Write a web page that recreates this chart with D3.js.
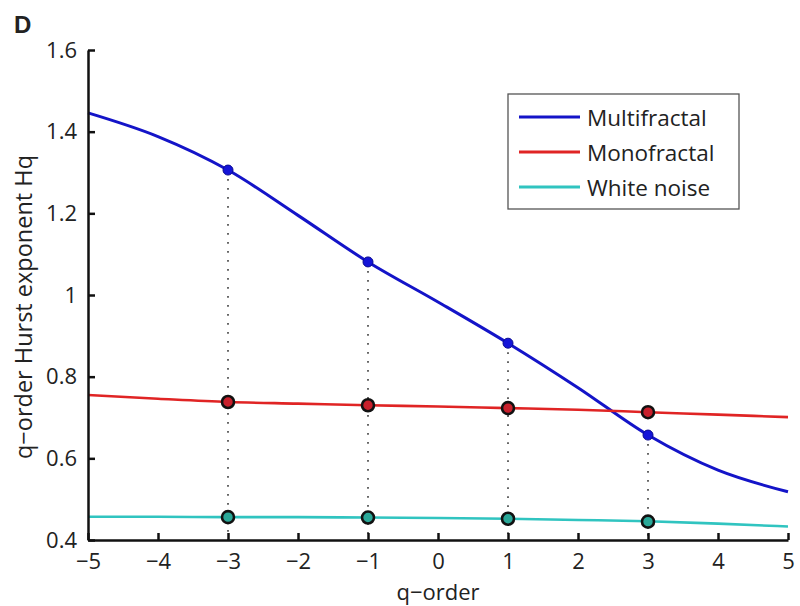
<!DOCTYPE html>
<html><head><meta charset="utf-8">
<script src="https://cdn.jsdelivr.net/npm/d3@7"></script>
<style>
html,body{margin:0;padding:0;background:#fff;}
svg text{font-family:"Open Sans","Noto Sans",sans-serif;fill:#222;}
</style></head>
<body><svg id="c" width="800" height="606"></svg>
<script>
const qOrder = [-5,-4,-3,-2,-1,0,1,2,3,4,5];
const multifractal = [1.446,1.388,1.306,1.195,1.081,0.983,0.882,0.773,0.657,0.571,0.518];
const monofractal = [0.755,0.746,0.738,0.734,0.730,0.727,0.723,0.719,0.713,0.707,0.701];
const whiteNoise = [0.457,0.457,0.456,0.456,0.455,0.454,0.452,0.449,0.446,0.440,0.433];
const markerQ = [-3,-1,1,3];
const multiMarkers = [1.306,1.081,0.882,0.657];
const monoMarkers = [0.738,0.730,0.723,0.713];
const noiseMarkers = [0.456,0.455,0.452,0.445];
const xTicks = [-5,-4,-3,-2,-1,0,1,2,3,4,5];
const yTicks = [0.4,0.6,0.8,1,1.2,1.4,1.6];
const seriesNames = ["Multifractal","Monofractal","White noise"];
const colors = ["#1414c8","#e02424","#30c4c0"];
const markerFill = ["#1414d8","#c8202c","#2aa898"];

const svg = d3.select("#c");
const x = d3.scaleLinear().domain([-5,5]).range([88,788]);
const y = d3.scaleLinear().domain([0.4,1.6]).range([540,50]);

// dotted guides
svg.selectAll(".guide").data(markerQ).enter().append("line")
  .attr("x1",d=>x(d)).attr("x2",d=>x(d))
  .attr("y1",(d,i)=>y(multiMarkers[i])).attr("y2",y(0.4))
  .attr("stroke","#666").attr("stroke-width",2)
  .attr("stroke-dasharray","1.8,7.2");

const line = d3.line().x((d,i)=>x(qOrder[i])).y(d=>y(d)).curve(d3.curveMonotoneX);
[multifractal,monofractal,whiteNoise].forEach((s,k)=>{
  svg.append("path").attr("d",line(s)).attr("fill","none")
    .attr("stroke",colors[k]).attr("stroke-width",k===0?3:2.6);
});

// markers
svg.selectAll(".mm").data(multiMarkers).enter().append("circle")
  .attr("cx",(d,i)=>x(markerQ[i])).attr("cy",d=>y(d)).attr("r",5)
  .attr("fill",markerFill[0]).attr("stroke","#0a0a90").attr("stroke-width",1);
[[monoMarkers,1],[noiseMarkers,2]].forEach(([arr,k])=>{
  svg.selectAll(".m"+k).data(arr).enter().append("circle")
    .attr("cx",(d,i)=>x(markerQ[i])).attr("cy",d=>y(d)).attr("r",6)
    .attr("fill",markerFill[k]).attr("stroke","#111").attr("stroke-width",2.6);
});

// axes
const xAxis = d3.axisBottom(x).tickValues(xTicks).tickSizeInner(-7).tickSizeOuter(0)
  .tickPadding(13).tickFormat(d=>d<0?"\u2212"+Math.abs(d):d);
const gx = svg.append("g").attr("transform","translate(0,540)").call(xAxis);
gx.select(".domain").attr("stroke","#111").attr("stroke-width",2.5);
gx.selectAll(".tick line").attr("stroke","#111").attr("stroke-width",2.5);
gx.selectAll("text").attr("font-size",22).attr("fill","#333")
  .style("font-family",'"Open Sans",sans-serif');

const yAxis = d3.axisLeft(y).tickValues(yTicks).tickSizeInner(-7).tickSizeOuter(0)
  .tickPadding(11).tickFormat(d=>d3.format("")(d));
const gy = svg.append("g").attr("transform","translate(88,0)").call(yAxis);
gy.select(".domain").attr("stroke","#111").attr("stroke-width",2.5);
gy.selectAll(".tick line").attr("stroke","#111").attr("stroke-width",2.5);
gy.selectAll("text").attr("font-size",22).attr("fill","#333")
  .style("font-family",'"Open Sans",sans-serif');

// labels
svg.append("text").attr("x",438).attr("y",600).attr("text-anchor","middle")
  .attr("font-size",22).attr("fill","#333").text("q\u2212order");
svg.append("text").attr("transform","translate(32,307) rotate(-90)")
  .attr("text-anchor","middle").attr("font-size",23.5).attr("fill","#333")
  .text("q\u2212order Hurst exponent Hq");
svg.append("text").attr("x",14).attr("y",33).attr("font-size",24).attr("font-weight","bold")
  .style("font-family","Arial,'Liberation Sans',sans-serif").attr("fill","#111").text("D");

// legend
const lg = svg.append("g");
lg.append("rect").attr("x",508).attr("y",94).attr("width",231).attr("height",115)
  .attr("fill","#fff").attr("stroke","#555").attr("stroke-width",1.3);
seriesNames.forEach((n,k)=>{
  const yy = 117 + k*35;
  lg.append("line").attr("x1",519).attr("x2",580).attr("y1",yy).attr("y2",yy)
    .attr("stroke",colors[k]).attr("stroke-width",3);
  lg.append("text").attr("x",587).attr("y",yy+9).attr("font-size",22.5)
    .attr("fill","#333").text(n);
});
</script></body></html>
